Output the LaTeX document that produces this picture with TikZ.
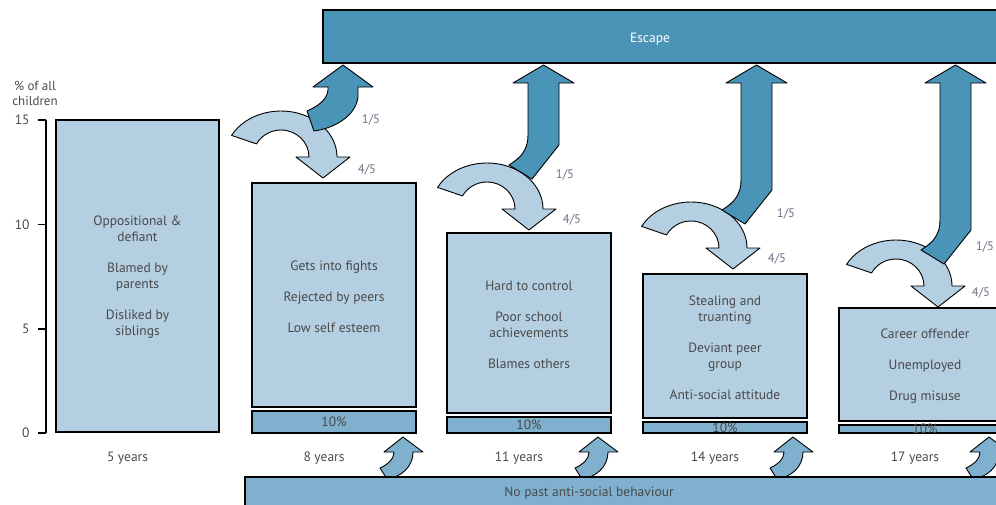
\documentclass[tikz,border=0pt]{standalone}
\usepackage{fontspec}
\setmainfont{PT Sans}
\definecolor{paleblue}{HTML}{B3CFE1}
\definecolor{midblue}{HTML}{7FB0CD}
\definecolor{deepblue}{HTML}{4A94B8}
\definecolor{textgrey}{HTML}{4A4A4A}
\definecolor{fracgrey}{HTML}{756C86}
\begin{document}
\begin{tikzpicture}
[x=1pt,y=-1pt,
  boxdecorate/.style={draw,line width=1.6pt,fill=paleblue,inner sep=0pt},%
  bardecorate/.style={draw,line width=1.6pt,fill=midblue,inner sep=0pt},%
  textdecorate/.style={text=textgrey,align=center,font=\fontsize{13.5}{16}\selectfont},%
  fracdecorate/.style={text=fracgrey,font=\fontsize{12.5}{14}\selectfont},%
  turndecorate/.style={draw,line width=0.9pt,line join=round,fill=paleblue},%
  escdecorate/.style={draw,line width=0.9pt,line join=round,fill=deepblue},%
  risedecorate/.style={draw,line width=0.9pt,line join=round,fill=midblue}]
\path [use as bounding box] (0,0) rectangle (996,504);
\clip (0,0) rectangle (996,504);
%% axis
\draw [line width=1.6pt] (46,120) -- (46,433);
\foreach \val/\y in {15/120, 10/224.3, 5/328.7, 0/433}
{
  \coordinate (tick\val) at (46,\y);
  \draw [line width=1.6pt] (tick\val) -- ++(-8,0);
  \node (ticklabel\val) [textdecorate,anchor=east] at (33,\y) {\val};
}
\node (axistitle) [textdecorate,font=\fontsize{13}{15}\selectfont] at (35,93) {\% of all\\children};
%% boxes
\foreach \boxname/\xl/\xr/\yt/\yb/\age/\txt in {
  1/56/219/120/432/5 years/{Oppositional \&\\defiant\\[15pt]Blamed by\\parents\\[15pt]Disliked by\\siblings},
  2/252/416/183/407/8 years/{Gets into fights\\[15pt]Rejected by peers\\[15pt]Low self esteem},
  3/447/611/233/413/11 years/{Hard to control\\[15pt]Poor school\\achievements\\[15pt]Blames others},
  4/643/807/274/418/14 years/{Stealing and\\truanting\\[15pt]Deviant peer\\group\\[15pt]Anti-social attitude},
  5/839/1011/308/421/17 years/{Career offender\\[15pt]Unemployed\\[15pt]Drug misuse}}
{
  \pgfmathsetmacro\boxw{\xr-\xl}
  \pgfmathsetmacro\boxh{\yb-\yt}
  \node (box\boxname) [boxdecorate,minimum width=\boxw pt,minimum height=\boxh pt]
    at ({(\xl+\xr)/2},{(\yt+\yb)/2}) {};
  \node (boxtext\boxname) [textdecorate,yshift=-1.5pt] at (box\boxname.center) {\txt};
  \node (age\boxname) [textdecorate] at ({(\xl+\xr)/2-10},458) {\age};
}
%% ten percent bars
\foreach \boxname/\barw/\yt in {2/164/410, 3/164/416, 4/164/421, 5/172/424}
{
  \pgfmathsetmacro\barh{432-\yt}
  \node (bar\boxname) [bardecorate,anchor=north,minimum width=\barw pt,minimum height=\barh pt,
    label={[textdecorate]center:10\%}] at (box\boxname.south |- 0,\yt) {};
}
%% escape and no past behaviour
\node (escape) [draw,line width=1.6pt,fill=deepblue,minimum width=688pt,minimum height=53pt,
  label={[textdecorate,text=white,xshift=-17pt,yshift=-2.5pt]center:Escape}] at (667,36.5) {};
\foreach \tx in {403,598,793,989}
  \draw [risedecorate,shift={(\tx,437)}] (-23,31) .. controls (-14,27) and (-9,21) .. (-9,15)
    -- (-19,15) -- (0,0) -- (20,15) -- (10,15) .. controls (10,30) and (-2,40) .. (-16,42) -- cycle;
\node (nopast) [draw,line width=1.6pt,fill=midblue,minimum width=766pt,minimum height=30pt,
  label={[textdecorate,xshift=-39pt,yshift=-1.5pt]center:No past anti-social behaviour}] at (628,492) {};
%% turning arrows
\foreach \tx/\ty in {323/178, 529/230, 733/269, 938/307}
  \draw [turndecorate,shift={(\tx,\ty)}] (-42,-21) ++(208:56 and 46)
    arc [start angle=208,end angle=360,x radius=56,y radius=46]
    -- (27,-21) -- (0,0) -- (-27,-21) -- (-14,-21)
    arc [start angle=360,end angle=209,x radius=28,y radius=27] -- cycle;
\draw [escdecorate] (307,111) .. controls (318,106) and (327,100) .. (328,90) -- (328,87)
  -- (313,87) -- (343,65) -- (373,87) -- (358,87) -- (358,97)
  .. controls (356,115) and (336,128) .. (314,131) -- cycle;
\foreach \xl/\yb in {528/145, 741/190, 940/230}
  \draw [escdecorate] ({\xl-19},{\yb+20}) .. controls ({\xl-6},{\yb+12}) and (\xl,{\yb+4}) .. (\xl,{\yb-10})
    -- (\xl,83) -- ({\xl-15},83) -- ({\xl+15.5},65) -- ({\xl+46},83) -- ({\xl+31},83)
    -- ({\xl+31},\yb) -- ({\xl+4},{\yb+34}) -- cycle;
%% shares
\foreach \fracname/\x/\y/\share in {
  a/371/120/1\slash 5, b/367/170/4\slash 5, c/565/175/1\slash 5, d/572/220/4\slash 5,
  e/786/214/1\slash 5, f/777/259/4\slash 5, g/985/247/1\slash 5, h/981/293/4\slash 5}
{
  \node (share\fracname) [fracdecorate] at (\x,\y) {\share};
}
\end{tikzpicture}
\end{document}
